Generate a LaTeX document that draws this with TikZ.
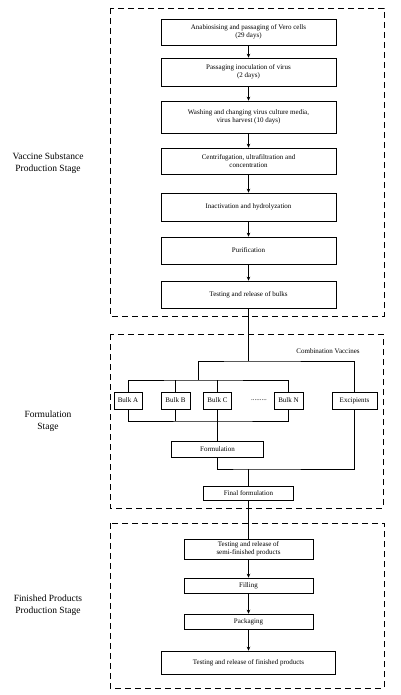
\documentclass[tikz,border=0pt]{standalone}
\usepackage{fontspec}
\setmainfont{Liberation Serif}
\usetikzlibrary{arrows.meta, positioning}

\begin{document}
\begin{tikzpicture}[
			x=1pt, y=-1pt,
			every node/.style={font=\fontsize{7}{8.5}\selectfont},
			box/.style={draw, rectangle, align=center, inner sep=0pt, line width=0.6pt, minimum width=175pt},
			smallbox/.style={box, minimum width=28pt, minimum height=17pt},
			stagebox/.style={dash pattern=on 6pt off 4pt, line width=0.6pt},
			stagename/.style={align=center, font=\fontsize{9.5}{12.5}\selectfont},
			arrow/.style={-{Stealth[length=4pt, width=3.5pt]}, line width=0.6pt},
			link/.style={line width=0.6pt}
			]
			\useasboundingbox (0,0) rectangle (400,695);
			
			% Stages
			\draw [stagebox] (110,8) rectangle (384,316);
			\draw [stagebox] (110,334) rectangle (383,508);
			\draw [stagebox] (110,523) rectangle (384,688);
			\node (vaccine_stage) [stagename] at (48,163) {Vaccine Substance\\Production Stage};
			\node (formulation_stage) [stagename] at (48,421) {Formulation\\Stage};
			\node (finished_stage) [stagename] at (48,605) {Finished Products\\Production Stage};
			
			% Nodes
			\node (vero) [box, minimum height=26pt] at (248.5,32) {Anabiosising and passaging of Vero cells\\(29 days)};
			\node (inoculation) [box, minimum height=28pt] at (248.5,72) {Passaging inoculation of virus\\(2 days)};
			\node (harvest) [box, minimum height=32pt] at (248.5,117) {Washing and changing virus culture media,\\virus harvest (10 days)};
			\node (concentration) [box, minimum height=26pt] at (248.5,161) {Centrifugation, ultrafiltration and\\concentration};
			\node (inactivation) [box, minimum height=28pt] at (248.5,207) {Inactivation and hydrolyzation};
			\node (purification) [box, minimum height=27pt] at (248.5,250.5) {Purification};
			\node (bulks) [box, minimum height=27pt] at (248.5,294.5) {Testing and release of bulks};
			
			\node (combination) at (328,351) {Combination Vaccines};
			\node (bulk_a) [smallbox] at (128,400.5) {Bulk A};
			\node (bulk_b) [smallbox, minimum width=29pt] at (175.5,400.5) {Bulk B};
			\node (bulk_c) [smallbox] at (217.5,400.5) {Bulk C};
			\node (dots) at (259,400.5) {.........};
			\node (bulk_n) [smallbox, minimum width=29pt] at (288.5,400.5) {Bulk N};
			\node (excipients) [smallbox, minimum width=45pt] at (354.5,400.5) {Excipients};
			\node (formulation) [box, minimum width=92pt, minimum height=16pt] at (217.5,449) {Formulation};
			\node (final) [box, minimum width=90pt, minimum height=14pt] at (248.5,493) {Final formulation};
			
			\node (semi) [box, minimum width=129pt, minimum height=20pt] at (248.5,549) {Testing and release of\\semi-finished products};
			\node (filling) [box, minimum width=129pt, minimum height=15pt] at (248.5,585.5) {Filling};
			\node (packaging) [box, minimum width=129pt, minimum height=15pt] at (248.5,621.5) {Packaging};
			\node (release) [box, minimum width=174pt, minimum height=23pt] at (248.5,662.5) {Testing and release of finished products};
			
			% Junctions
			\coordinate (split) at (248.5,361);
			\coordinate (split_left) at (198.5,361);
			\coordinate (top_bar) at (198.5,380);
			\coordinate (bottom_bar) at (217.5,421);
			\coordinate (merge) at (248.5,469);
			
			% Connections
			\draw [arrow] (vero) -- (inoculation);
			\draw [arrow] (inoculation) -- (harvest);
			\draw [arrow] (harvest) -- (concentration);
			\draw [arrow] (concentration) -- (inactivation);
			\draw [arrow] (inactivation) -- (purification);
			\draw [arrow] (purification) -- (bulks);
			
			\draw [link] (bulks) -- (split);
			\draw [link] (split_left) -- (split) -| (excipients);
			\draw [link] (split_left) -- (top_bar);
			\draw [link] (bulk_a) |- (top_bar) -| (bulk_n);
			\draw [link] (bulk_b) -- (bulk_b |- top_bar);
			\draw [link] (bulk_c) -- (bulk_c |- top_bar);
			\draw [link] (bulk_a) |- (bottom_bar) -| (bulk_n);
			\draw [link] (bulk_b) -- (bulk_b |- bottom_bar);
			\draw [link] (bulk_c) -- (formulation);
			\draw [link] (formulation) |- (merge) -| (excipients);
			\draw [link] (merge) -- (final);
			\draw [link] (final) -- (semi);
			
			\draw [arrow] (semi) -- (filling);
			\draw [arrow] (filling) -- (packaging);
			\draw [arrow] (packaging) -- (release);
			
		\end{tikzpicture}
\end{document}
